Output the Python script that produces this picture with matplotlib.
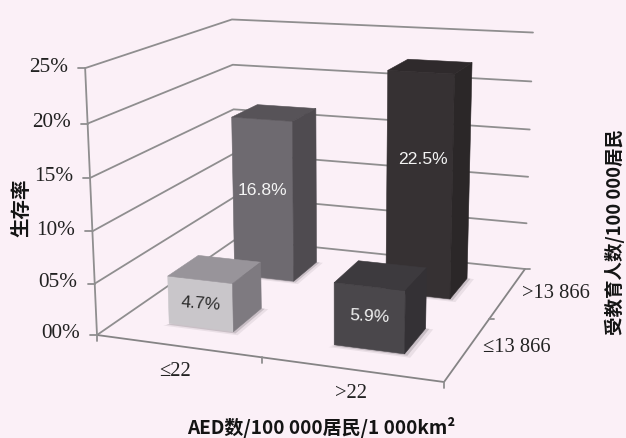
import numpy as np
import matplotlib
matplotlib.use("Agg")
import matplotlib.pyplot as plt
from matplotlib.patches import Polygon

# Survival rate by AED density (columns) and education level (rows)
aed_labels = ["≤22", ">22"]
edu_labels = ["≤13 866", ">13 866"]
survival_low_edu = [4.7, 5.9]
survival_high_edu = [16.8, 22.5]
rate_ticks = [0, 5, 10, 15, 20, 25]
rate_tick_labels = ["00%", "05%", "10%", "15%", "20%", "25%"]

BG = "#FBF0F7"
GRID = "#8F8E8F"
SERIF = "Liberation Serif"
SANS = "Liberation Sans"
CJK = ["Noto Sans CJK SC", "DejaVu Sans"]
ZMAX = 25.0

# Perspective camera, in figure pixels: floor corners and wall-top corners
floor_quad = [(97, 335), (444, 382), (525, 269), (236, 239)]
wall_tops = {(0, 0): (85, 67), (0, 1): (232, 19), (1, 1): (533, 34)}


def floor_homography(q):
    (x0, y0), (x1, y1), (x2, y2), (x3, y3) = q
    dx1, dx2, sx = x1 - x2, x3 - x2, x0 - x1 + x2 - x3
    dy1, dy2, sy = y1 - y2, y3 - y2, y0 - y1 + y2 - y3
    den = dx1 * dy2 - dx2 * dy1
    g = (sx * dy2 - dx2 * sy) / den
    h = (dx1 * sy - sx * dy1) / den
    return np.array([[x1 - x0 + g * x1, x3 - x0 + h * x3, x0],
                     [y1 - y0 + g * y1, y3 - y0 + h * y3, y0],
                     [g, h, 1.0]])


H = floor_homography(floor_quad)
rows, rhs = [], []
for (u, v), (X, Y) in wall_tops.items():
    b = H @ np.array([u, v, 1.0])
    rows += [[1, 0, -X], [0, 1, -Y]]
    rhs += [X * b[2] - b[0], Y * b[2] - b[1]]
up = np.linalg.lstsq(np.array(rows, float), np.array(rhs, float), rcond=None)[0]


def project(u, v, rate):
    p = H @ np.array([u, v, 1.0]) + up * (rate / ZMAX)
    return p[0] / p[2], p[1] / p[2]


fig = plt.figure(figsize=(6.26, 4.38), dpi=100, facecolor=BG)
ax = fig.add_axes([0, 0, 1, 1])
ax.set_xlim(0, 626)
ax.set_ylim(438, 0)
ax.axis("off")


def line(points, color=GRID, lw=1.3, z=1):
    xs, ys = zip(*points)
    ax.plot(xs, ys, color=color, lw=lw, zorder=z, solid_capstyle="round")


# Walls: one polyline per rate tick
for r in rate_ticks:
    line([project(0, 0, r), project(0, 1, r), project(1, 1, r)])

# Floor outline and vertical rate axis
line([project(0, 0, 0), project(1, 0, 0), project(1, 1, 0)], color="#858485")
line([project(0, 0, 0), project(0, 0, ZMAX)])

# Tick marks and rate labels
for r, lab in zip(rate_ticks, rate_tick_labels):
    x, y = project(0, 0, r)
    line([(x - 7, y), (x, y)])
    ax.text(x - 17, y - 1, lab, ha="right", va="center", fontsize=15.3,
            family=SERIF, color="#222222")
for u in (0, 0.5, 1):
    x, y = project(u, 0, 0)
    line([(x, y), (x, y + 6)])
x, y = project(1, 0.5, 0)
line([(x, y), (x + 5, y)])
x, y = project(1, 1, 0)
line([(x, y), (x + 5, y)])

# Columns: footprint half-widths along each floor direction
HALF_U, HALF_V = 0.10, 0.105
faces = {
    (0, 0): ("#C9C6CA", "#98949A", "#7E7A80", "#2B2B2B", 0.50, -4, 0),
    (1, 0): ("#4A474B", "#3D3A3E", "#343135", "#F4F4F4", 0.52, -3, 0),
    (0, 1): ("#6E6A70", "#575358", "#4F4B50", "#F4F4F4", 0.56, 0, 0),
    (1, 1): ("#363133", "#2F2A2C", "#2B2728", "#F4F4F4", 0.62, 0, 3),
}


def column(i, j, value, order):
    front, top, side, text_col, frac, rot, dx = faces[(i, j)]
    u0, u1 = 0.25 + 0.5 * i - HALF_U, 0.25 + 0.5 * i + HALF_U
    v0, v1 = 0.26 + 0.48 * j - HALF_V, 0.26 + 0.48 * j + HALF_V
    # Soft contact shadow on the floor
    for grow, alpha in ((0.022, 0.10), (0.011, 0.22)):
        shadow = [project(u0 - 0.4 * grow, v0 - grow, 0), project(u1 + grow, v0 - grow, 0),
                  project(u1 + grow, v1, 0), project(u1, v1, 0)]
        ax.add_patch(Polygon(shadow, closed=True, fc="#555055", ec="none",
                             alpha=alpha, zorder=order))
    quads = [
        ([(u0, v0, 0), (u1, v0, 0), (u1, v0, value), (u0, v0, value)], front),
        ([(u0, v0, value), (u1, v0, value), (u1, v1, value), (u0, v1, value)], top),
        ([(u1, v0, 0), (u1, v1, 0), (u1, v1, value), (u1, v0, value)], side),
    ]
    for pts, col in quads:
        ax.add_patch(Polygon([project(*p) for p in pts], closed=True, fc=col,
                             ec=col, lw=0.4, zorder=order + 0.1))
    tx, ty = project((u0 + u1) / 2, v0, value * frac)
    ax.text(tx + dx, ty, f"{value}%", ha="center", va="center", fontsize=12.6,
            family=SANS, color=text_col, rotation=rot, zorder=order + 0.2)


# Painter's order: back row first
for j, series in ((1, survival_high_edu), (0, survival_low_edu)):
    for i, val in enumerate(series):
        column(i, j, val, 3 + (1 - j) * 2 + i)

# Category labels on the floor edges
cat_style = dict(ha="center", va="center", fontsize=14.8, family=SERIF, color="#222222")
ax.text(175, 371, aed_labels[0], **cat_style)
ax.text(351, 394, aed_labels[1], **cat_style)
ax.text(517, 348, edu_labels[0], **cat_style)
ax.text(556, 293, edu_labels[1], **cat_style)

# Axis titles
title_style = dict(fontweight="bold", family=CJK, color="#141414",
                   ha="center", va="center")
ax.text(321, 428, "AED数/100 000居民/1 000km²", fontsize=13.7, **title_style)
ax.text(22, 208, "生存率", rotation=90, fontsize=14, **title_style)
ax.text(615, 232, "受教育人数/100 000居民", rotation=90, fontsize=13.3, **title_style)

fig.savefig("out.png", dpi=100, facecolor=BG)
